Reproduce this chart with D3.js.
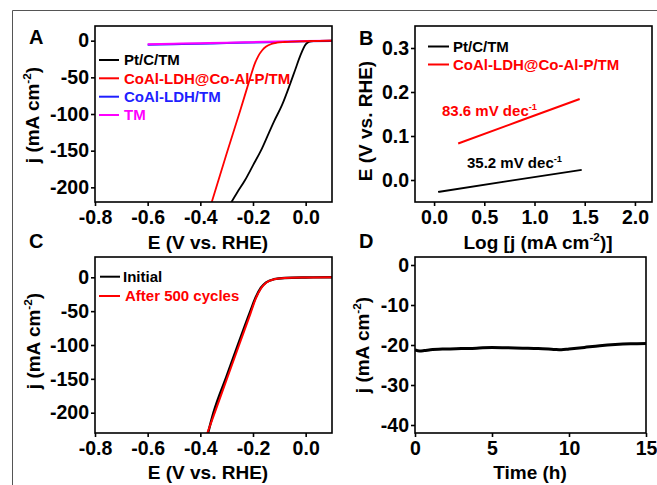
<!DOCTYPE html>
<html>
<head>
<meta charset="utf-8">
<script src="https://cdn.jsdelivr.net/npm/d3@7"></script>
<style>
body { margin: 0; background: #fff; }
text { font-family: "Liberation Sans", Arial, sans-serif; font-weight: bold; }
</style>
</head>
<body>
<script>
/* global d3 */

// Panel A - polarization curves
const aPtcE = [0.10, 0.04, 0.02, 0.01, 0.0, -0.02, -0.04, -0.06, -0.09, -0.12, -0.14, -0.17, -0.20, -0.23, -0.26, -0.29];
const aPtcJ = [0, -0.3, -0.8, -2, -5, -20, -40, -60, -88, -110, -126, -150, -170, -190, -207, -225];
const aCoE = [0.10, 0.0, -0.08, -0.11, -0.13, -0.15, -0.165, -0.18, -0.195, -0.21, -0.25, -0.30, -0.36];
const aCoJ = [0, -0.8, -1.8, -2.8, -4.5, -8, -13, -21, -33, -50, -97, -154, -224];
const aLdhE = [-0.6, -0.5, -0.4, -0.3, -0.2, -0.1, 0.0, 0.1];
const aLdhJ = [-5.6, -4.9, -4.1, -3.3, -2.5, -1.7, -0.9, -0.4];
const aTmE = [-0.6, -0.5, -0.4, -0.3, -0.2, -0.1, 0.0, 0.1];
const aTmJ = [-4.8, -4.2, -3.5, -2.8, -2.0, -1.3, -0.6, -0.1];

// Panel B - Tafel plots
const bPtcLog = [0.04, 0.75, 1.47];
const bPtcE = [-0.027, -0.002, 0.023];
const bCoLog = [0.24, 0.85, 1.45];
const bCoE = [0.083, 0.134, 0.184];

// Panel C - before / after cycling
const cInitE = [0.10, 0.0, -0.08, -0.12, -0.15, -0.17, -0.19, -0.21, -0.25, -0.30, -0.35, -0.372];
const cInitJ = [0, -0.3, -1.0, -2.8, -7.5, -15.5, -30, -50, -92, -146, -200, -232];
const cAfterE = [0.10, 0.0, -0.08, -0.12, -0.15, -0.17, -0.19, -0.21, -0.25, -0.30, -0.35, -0.378];
const cAfterJ = [0, -0.3, -1.0, -3, -8, -16.5, -32, -54, -97, -151, -205, -235];

// Panel D - stability
const dTime = [0, 0.3, 0.6, 1, 2, 3, 4, 5, 6, 7, 8, 9, 9.5, 10, 11, 12, 13, 14, 15];
const dJ = [-21.2, -21.5, -21.4, -21.2, -21.0, -20.9, -20.8, -20.6, -20.7, -20.8, -20.9, -21.1, -21.2, -21.0, -20.6, -20.2, -19.9, -19.7, -19.6];

// Ticks
const eTicks = [-0.8, -0.6, -0.4, -0.2, 0.0];
const aJTicks = [0, -50, -100, -150, -200];
const bLogTicks = [0, 0.5, 1.0, 1.5, 2.0];
const bETicks = [0, 0.1, 0.2, 0.3];
const dTimeTicks = [0, 5, 10, 15];
const dJTicks = [0, -10, -20, -30, -40];

const width = 657;
const height = 485;

const svg = d3.select('body')
.append('svg')
.attr('width', width)
.attr('height', height);

const loc = d3.formatLocale({decimal: '.', thousands: ',', grouping: [3], currency: ['', ''], minus: '-'});
const f1 = loc.format('.1f');
const f0 = loc.format('d');

// outer frame
svg.append('path')
.attr('d', 'M12.5,485V10.5H657')
.attr('fill', 'none')
.attr('stroke', '#555')
.attr('stroke-width', 1);

function styleAxis(sel) {
    sel.select('.domain').remove();
    sel.attr('font-family', '"Liberation Sans", Arial, sans-serif')
    .attr('font-size', 19.5)
    .attr('font-weight', 'bold');
    sel.selectAll('.tick line').attr('stroke', '#000').attr('stroke-width', 1.6);
    sel.selectAll('.tick text').attr('fill', '#000');
}

function makePanel(cfg) {
    const x = d3.scaleLinear().domain(cfg.xDomain).range([cfg.left, cfg.right]);
    const y = d3.scaleLinear().domain(cfg.yDomain).range([cfg.bottom, cfg.top]);
    const g = svg.append('g');

    g.append('clipPath')
    .attr('id', 'clip' + cfg.name)
    .append('rect')
    .attr('x', cfg.left)
    .attr('y', cfg.top)
    .attr('width', cfg.right - cfg.left)
    .attr('height', cfg.bottom - cfg.top);

    g.append('g')
    .attr('transform', `translate(0,${cfg.bottom})`)
    .call(d3.axisBottom(x).tickValues(cfg.xTicks).tickFormat(cfg.xFormat).tickSize(4).tickPadding(4))
    .call(styleAxis);

    g.append('g')
    .attr('transform', `translate(${cfg.left},0)`)
    .call(d3.axisLeft(y).tickValues(cfg.yTicks).tickFormat(cfg.yFormat).tickSize(4).tickPadding(2))
    .call(styleAxis);

    const plot = g.append('g').attr('clip-path', `url(#clip${cfg.name})`);

    g.append('rect')
    .attr('x', cfg.left)
    .attr('y', cfg.top)
    .attr('width', cfg.right - cfg.left)
    .attr('height', cfg.bottom - cfg.top)
    .attr('fill', 'none')
    .attr('stroke', '#000')
    .attr('stroke-width', 1.6);

    return {x, y, g, plot};
}

function drawSeries(p, xs, ys, color, w) {
    const line = d3.line()
    .x(d => p.x(d[0]))
    .y(d => p.y(d[1]))
    .curve(d3.curveMonotoneX);
    p.plot.append('path')
    .datum(xs.map((v, i) => [v, ys[i]]))
    .attr('d', line)
    .attr('fill', 'none')
    .attr('stroke', color)
    .attr('stroke-width', w)
    .attr('stroke-linejoin', 'round');
}

function addText(x, y, str, size, color) {
    return svg.append('text')
    .attr('x', x)
    .attr('y', y)
    .attr('font-size', size)
    .attr('fill', color || '#000')
    .text(str);
}

// text with a superscript part, e.g. j (mA cm-2)
function supText(x, y, parts, size, color, rotate, anchor) {
    const t = svg.append('text')
    .attr('x', x)
    .attr('y', y)
    .attr('font-size', size)
    .attr('fill', color || '#000')
    .attr('text-anchor', anchor || 'start');
    if (rotate) {
        t.attr('transform', `rotate(-90,${x},${y})`);
    }
    parts.forEach(pt => {
        if (pt.sup) {
            t.append('tspan').attr('dy', -size * 0.4).attr('font-size', size * 0.62).text(pt.sup);
        } else {
            t.append('tspan').attr('dy', pt.down ? size * 0.4 : 0).text(pt.txt);
        }
    });
    return t;
}

function legend(x1, x2, y, label, color, textX) {
    svg.append('line')
    .attr('x1', x1).attr('x2', x2)
    .attr('y1', y).attr('y2', y)
    .attr('stroke', color)
    .attr('stroke-width', 2);
    addText(textX, y + 5.3, label, 15, color);
}

const jTitle = [{txt: 'j (mA cm'}, {sup: '-2'}, {txt: ')', down: true}];

// Panel A
const pA = makePanel({
    name: 'A', left: 95, right: 332, top: 26, bottom: 202,
    xDomain: [-0.8, 0.1], yDomain: [-220, 20],
    xTicks: eTicks, yTicks: aJTicks, xFormat: f1, yFormat: f0
});
drawSeries(pA, aLdhE, aLdhJ, '#1f1fff', 2);
drawSeries(pA, aTmE, aTmJ, '#ff00ff', 2);
drawSeries(pA, aPtcE, aPtcJ, '#000', 1.8);
drawSeries(pA, aCoE, aCoJ, '#ff0000', 1.8);
legend(99, 119, 60, 'Pt/C/TM', '#000', 124);
legend(99, 119, 78.3, 'CoAl-LDH@Co-Al-P/TM', '#ff0000', 124);
legend(99, 119, 96.7, 'CoAl-LDH/TM', '#1f1fff', 124);
legend(99, 119, 115, 'TM', '#ff00ff', 124);
addText(29, 44, 'A', 20);
supText(39, 115, jTitle, 19, '#000', true, 'middle');
addText(208, 249, 'E (V vs. RHE)', 19).attr('text-anchor', 'middle');

// Panel B
const pB = makePanel({
    name: 'B', left: 415, right: 652, top: 26, bottom: 202,
    xDomain: [-0.19, 2.17], yDomain: [-0.05, 0.35],
    xTicks: bLogTicks, yTicks: bETicks, xFormat: f1, yFormat: f1
});
drawSeries(pB, bPtcLog, bPtcE, '#000', 2);
drawSeries(pB, bCoLog, bCoE, '#ff0000', 2);
legend(428, 449, 46.5, 'Pt/C/TM', '#000', 453);
legend(428, 449, 64.5, 'CoAl-LDH@Co-Al-P/TM', '#ff0000', 453);
supText(442, 116, [{txt: '83.6 mV dec'}, {sup: '-1'}], 15, '#ff0000');
supText(467, 168, [{txt: '35.2 mV dec'}, {sup: '-1'}], 15, '#000');
addText(359, 45, 'B', 20);
addText(372, 121, 'E (V vs. RHE)', 19)
.attr('text-anchor', 'middle')
.attr('transform', 'rotate(-90,372,121)');
supText(538, 249, [{txt: 'Log [j (mA cm'}, {sup: '-2'}, {txt: ')]', down: true}], 19, '#000', false, 'middle');

// Panel C
const pC = makePanel({
    name: 'C', left: 95, right: 332, top: 257, bottom: 433,
    xDomain: [-0.8, 0.1], yDomain: [-230, 30],
    xTicks: eTicks, yTicks: aJTicks, xFormat: f1, yFormat: f0
});
drawSeries(pC, cInitE, cInitJ, '#000', 2.4);
drawSeries(pC, cAfterE, cAfterJ, '#ff0000', 2);
legend(100, 120, 276.7, 'Initial', '#000', 123);
legend(99, 120, 296, 'After 500 cycles', '#ff0000', 125);
addText(29, 248, 'C', 20);
supText(40, 341, jTitle, 19, '#000', true, 'middle');
addText(208, 479, 'E (V vs. RHE)', 19).attr('text-anchor', 'middle');

// Panel D
const pD = makePanel({
    name: 'D', left: 415, right: 646, top: 257, bottom: 433,
    xDomain: [0, 15], yDomain: [-42, 2],
    xTicks: dTimeTicks, yTicks: dJTicks, xFormat: f0, yFormat: f0
});
drawSeries(pD, dTime, dJ, '#000', 3);
addText(359, 248, 'D', 20);
supText(369, 345, jTitle, 19, '#000', true, 'middle');
addText(530, 479, 'Time (h)', 19).attr('text-anchor', 'middle');
</script>
</body>
</html>
